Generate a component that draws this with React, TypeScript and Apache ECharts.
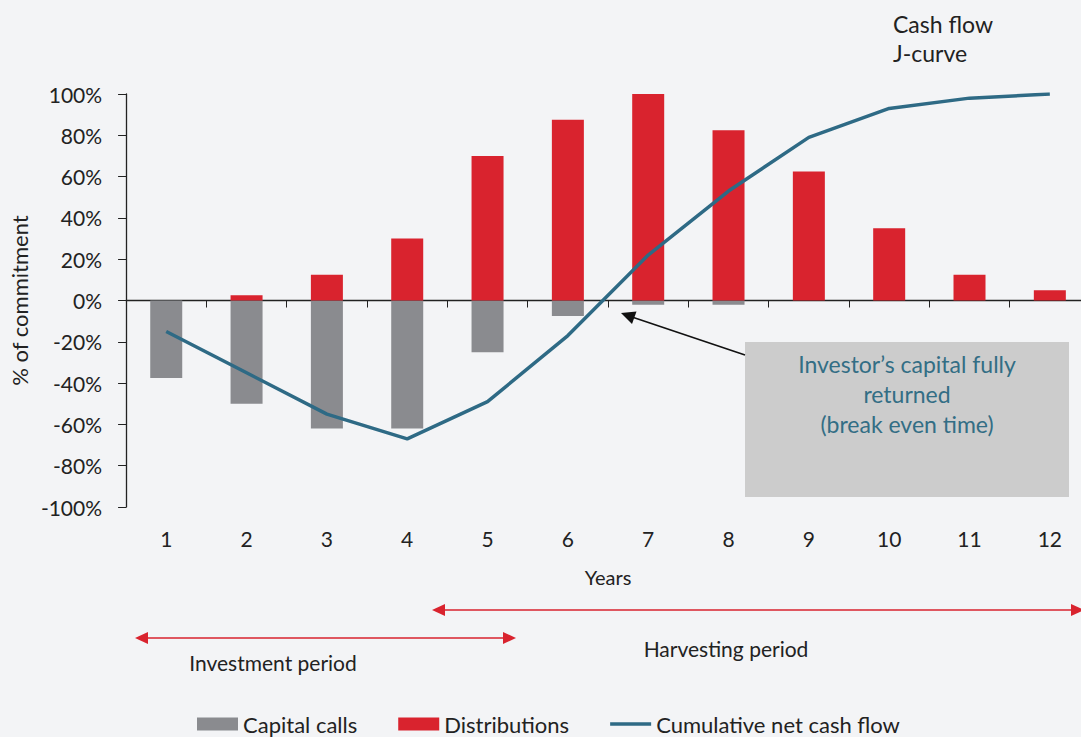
import React, { useEffect, useRef } from "react";
import * as echarts from "echarts";

const years = ["1", "2", "3", "4", "5", "6", "7", "8", "9", "10", "11", "12"];
const capitalCalls = [-37.5, -50, -62, -62, -25, -7.5, -2, -2, 0, 0, 0, 0];
const distributions = [0, 2.5, 12.5, 30, 70, 87.5, 100, 82.5, 62.5, 35, 12.5, 5];
const cumulative = [-15, -35, -55, -67, -49, -17, 22, 53, 79, 93, 98, 100];

const FONT = "Lato, 'Open Sans', sans-serif";
const GRAY = "#8a8b8f";
const RED = "#d9232e";
const BLUE = "#2e6a85";
const TXT = "#222";

export default function App() {
  const ref = useRef<HTMLDivElement>(null);
  useEffect(() => {
    if (!ref.current) return;
    const chart = echarts.init(ref.current, null, { renderer: "svg" });
    const redHead = (pts: number[][]) => ({
      type: "polygon",
      shape: { points: pts },
      style: { fill: RED },
      silent: true,
    });
    chart.setOption({
      animation: false,
      backgroundColor: "#f3f4f6",
      textStyle: { fontFamily: FONT },
      grid: { left: 126, top: 94, width: 964, height: 413, containLabel: false },
      legend: {
        left: 192,
        top: 707,
        itemWidth: 41,
        itemHeight: 13,
        itemGap: 41,
        textStyle: { fontSize: 22, lineHeight: 24, color: TXT, fontFamily: FONT },
        data: [
          { name: "Capital calls", icon: "rect" },
          { name: "Distributions", icon: "rect" },
          { name: "Cumulative net cash flow", icon: "path://M0,0 L44,0 L44,4 L0,4 Z" },
        ],
      },
      xAxis: [
        {
          type: "category",
          data: years,
          position: "bottom",
          axisLine: { show: false, onZero: false },
          axisTick: { show: false },
          axisLabel: { fontSize: 21, color: TXT, margin: 21, fontFamily: FONT },
          name: "Years",
          nameLocation: "middle",
          nameGap: 60,
          nameTextStyle: { fontSize: 20, color: TXT, fontFamily: FONT },
        },
        {
          type: "category",
          data: years,
          position: "bottom",
          axisLine: { show: true, onZero: true, lineStyle: { color: TXT, width: 1.3 } },
          axisTick: { show: true, inside: false, length: 7, interval: 0, alignWithLabel: false, lineStyle: { color: TXT } },
          axisLabel: { show: false },
        },
      ],
      yAxis: {
        type: "value",
        min: -100,
        max: 100,
        interval: 20,
        axisLine: { show: true, lineStyle: { color: TXT, width: 1.3 } },
        axisTick: { show: true, length: 8, lineStyle: { color: TXT } },
        splitLine: { show: false },
        axisLabel: { formatter: "{value}%", fontSize: 21, color: TXT, margin: 24, fontFamily: FONT },
        name: "% of commitment",
        nameLocation: "middle",
        nameRotate: 90,
        nameGap: 95,
        nameTextStyle: { fontSize: 22, color: TXT, fontFamily: FONT },
      },
      series: [
        {
          name: "Capital calls",
          type: "bar",
          stack: "cf",
          barWidth: 32,
          xAxisIndex: 0,
          data: capitalCalls,
          itemStyle: { color: GRAY },
        },
        {
          name: "Distributions",
          type: "bar",
          stack: "cf",
          barWidth: 32,
          xAxisIndex: 0,
          data: distributions,
          itemStyle: { color: RED },
        },
        {
          name: "Cumulative net cash flow",
          type: "line",
          xAxisIndex: 0,
          data: cumulative,
          symbol: "none",
          lineStyle: { color: BLUE, width: 3.5 },
          itemStyle: { color: BLUE },
          z: 5,
        },
      ],
      graphic: [
        {
          type: "text",
          left: 893,
          top: 9,
          style: { text: "Cash flow\nJ-curve", fontSize: 23, lineHeight: 29, fill: TXT, fontFamily: FONT },
        },
        {
          type: "rect",
          shape: { x: 745, y: 342, width: 324, height: 155 },
          style: { fill: "#cccccc" },
          z: 10,
        },
        {
          type: "text",
          x: 907,
          y: 349,
          z: 11,
          style: {
            text: "Investor\u2019s capital fully\nreturned\n(break even time)",
            fontSize: 23,
            lineHeight: 30,
            fill: "#336e85",
            align: "center",
            fontFamily: FONT,
          },
        },
        {
          type: "line",
          shape: { x1: 745, y1: 355, x2: 632, y2: 317 },
          style: { stroke: "#111", lineWidth: 1.6 },
          z: 10,
        },
        {
          type: "polygon",
          shape: { points: [[621, 313], [636.5, 311.5], [632, 324]] },
          style: { fill: "#111" },
          z: 10,
        },
        {
          type: "line",
          shape: { x1: 442, y1: 610, x2: 1075, y2: 610 },
          style: { stroke: RED, lineWidth: 1.5 },
        },
        redHead([[432, 610], [445, 604], [445, 616]]),
        redHead([[1084, 610], [1071, 604], [1071, 616]]),
        {
          type: "line",
          shape: { x1: 143, y1: 638, x2: 508, y2: 638 },
          style: { stroke: RED, lineWidth: 1.5 },
        },
        redHead([[135, 638], [148, 632], [148, 644]]),
        redHead([[516, 638], [503, 632], [503, 644]]),
        {
          type: "text",
          x: 273,
          y: 662,
          style: { text: "Investment period", fontSize: 21, fill: TXT, align: "center", verticalAlign: "middle", fontFamily: FONT },
        },
        {
          type: "text",
          x: 726,
          y: 648,
          style: { text: "Harvesting period", fontSize: 21, fill: TXT, align: "center", verticalAlign: "middle", fontFamily: FONT },
        },
      ],
    });
    return () => chart.dispose();
  }, []);
  return (
    <div style={{ position: "fixed", left: 0, top: 0, width: 1081, height: 737, overflow: "hidden" }}>
      <div ref={ref} style={{ position: "absolute", left: 0, top: 0, width: 1100, height: 737 }} />
    </div>
  );
}
